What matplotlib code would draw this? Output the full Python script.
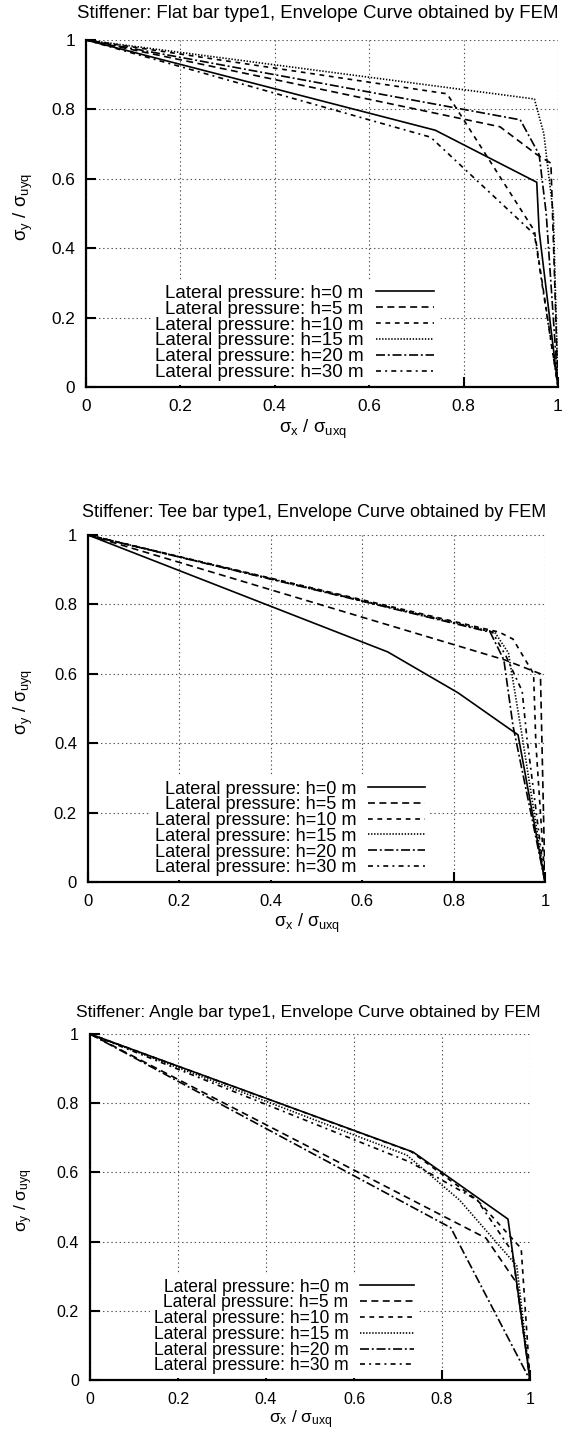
import matplotlib
matplotlib.use('Agg')
import matplotlib.pyplot as plt

plt.rcParams['font.family'] = ['Liberation Sans', 'DejaVu Sans']
plt.rcParams['mathtext.default'] = 'regular'
plt.rcParams['lines.scale_dashes'] = False

labels = ['Lateral pressure: h=0 m', 'Lateral pressure: h=5 m', 'Lateral pressure: h=10 m',
          'Lateral pressure: h=15 m', 'Lateral pressure: h=20 m', 'Lateral pressure: h=30 m']

titles = ['Stiffener: Flat bar type1, Envelope Curve obtained by FEM',
          'Stiffener: Tee bar type1, Envelope Curve obtained by FEM',
          'Stiffener: Angle bar type1, Envelope Curve obtained by FEM']

# flat bar
flat_x = [
    [0, 0.74, 0.955, 0.96, 1.0],
    [0, 0.877, 0.955, 0.985, 1.0],
    [0, 0.765, 0.95, 1.0],
    [0, 0.95, 0.97, 0.99, 1.0],
    [0, 0.92, 0.96, 0.975, 1.0],
    [0, 0.73, 0.95, 1.0],
]
flat_y = [
    [1, 0.74, 0.59, 0.45, 0.0],
    [1, 0.75, 0.67, 0.645, 0.0],
    [1, 0.845, 0.45, 0.0],
    [1, 0.83, 0.73, 0.5, 0.0],
    [1, 0.77, 0.67, 0.5, 0.0],
    [1, 0.72, 0.44, 0.0],
]

# tee bar
tee_x = [
    [0, 0.656, 0.81, 0.941, 1.0],
    [0, 0.912, 0.99, 1.0],
    [0, 0.90, 0.93, 0.975, 0.98, 1.0],
    [0, 0.89, 0.92, 0.95, 1.0],
    [0, 0.88, 0.91, 0.93, 1.0],
    [0, 0.885, 0.915, 0.95, 0.96, 1.0],
]
tee_y = [
    [1, 0.663, 0.545, 0.424, 0.0],
    [1, 0.64, 0.60, 0.0],
    [1, 0.72, 0.70, 0.60, 0.40, 0.0],
    [1, 0.72, 0.66, 0.42, 0.0],
    [1, 0.72, 0.64, 0.45, 0.0],
    [1, 0.72, 0.65, 0.55, 0.42, 0.0],
]

# angle bar
angle_x = [
    [0, 0.734, 0.80, 0.95, 1.0],
    [0, 0.90, 0.97, 1.0],
    [0, 0.73, 0.88, 0.98, 1.0],
    [0, 0.72, 0.84, 0.97, 1.0],
    [0, 0.82, 1.0],
    [0, 0.727, 0.88, 0.96, 1.0],
]
angle_y = [
    [1, 0.659, 0.60, 0.465, 0.0],
    [1, 0.41, 0.28, 0.0],
    [1, 0.66, 0.52, 0.38, 0.0],
    [1, 0.65, 0.52, 0.33, 0.0],
    [1, 0.44, 0.0],
    [1, 0.63, 0.52, 0.37, 0.0],
]

styles = ['-', (0, (5, 3.2)), (0, (3.4, 3.4)), (0, (1, 1.2)),
          (0, (6.5, 2, 1.4, 2)), (0, (3.6, 3, 1.4, 3))]

W, H = 562, 1431
boxes = [(86, 558, 40, 387), (88, 545, 535, 882), (90, 530, 1034, 1380)]
title_pos = [(318, 14), (314, 513), (308, 1013)]
data = [(flat_x, flat_y), (tee_x, tee_y), (angle_x, angle_y)]

fig = plt.figure(figsize=(W / 100, H / 100), dpi=100)

for k in range(3):
    l, r, t, b = boxes[k]
    s = (r - l) / 457.0  # the three panels are drawn at slightly different scales
    ax = fig.add_axes([l / W, 1 - b / H, (r - l) / W, (b - t) / H])
    xs, ys = data[k]
    for i in range(6):
        ax.plot(xs[i], ys[i], color='black', lw=1.2, linestyle=styles[i], label=labels[i])
    ax.set_xlim(0, 1)
    ax.set_ylim(0, 1)
    ticks = [0, 0.2, 0.4, 0.6, 0.8, 1]
    ticklabels = ['0', '0.2', '0.4', '0.6', '0.8', '1']
    ax.set_xticks(ticks)
    ax.set_xticklabels(ticklabels)
    ax.set_yticks(ticks)
    ax.set_yticklabels(ticklabels)
    ax.tick_params(direction='in', length=7, width=1.5, labelsize=12 * s, pad=8)
    ax.tick_params(axis='x', pad=8.5)
    ax.grid(True, color='#555555', lw=0.8, linestyle=(0, (1, 2)))
    ax.spines['top'].set_visible(False)
    ax.spines['right'].set_visible(False)
    ax.spines['left'].set_linewidth(1.6)
    ax.spines['bottom'].set_linewidth(1.6)
    ax.set_xlabel(r'$\sigma_x$ / $\sigma_{uxq}$', fontsize=13 * s)
    ax.set_ylabel(r'$\sigma_y$ / $\sigma_{uyq}$', fontsize=13 * s)
    ax.xaxis.set_label_coords(0.48, -30 * s / (b - t))
    ax.yaxis.set_label_coords((35 - l) / (r - l), 0.52)
    leg = ax.legend(loc='lower right', bbox_to_anchor=(0.745, 0.006), markerfirst=False,
                    fontsize=13.1 * s, handlelength=3.1, handletextpad=0.65, labelspacing=-0.07,
                    borderpad=0.2, borderaxespad=0, fancybox=False, framealpha=1)
    leg.get_frame().set_edgecolor('none')
    for txt in leg.get_texts():
        txt.set_ha('right')
    tx, ty = title_pos[k]
    fig.text(tx / W, 1 - ty / H, titles[k], ha='center', va='center', fontsize=13 * s)

fig.savefig('out.png', dpi=100)
